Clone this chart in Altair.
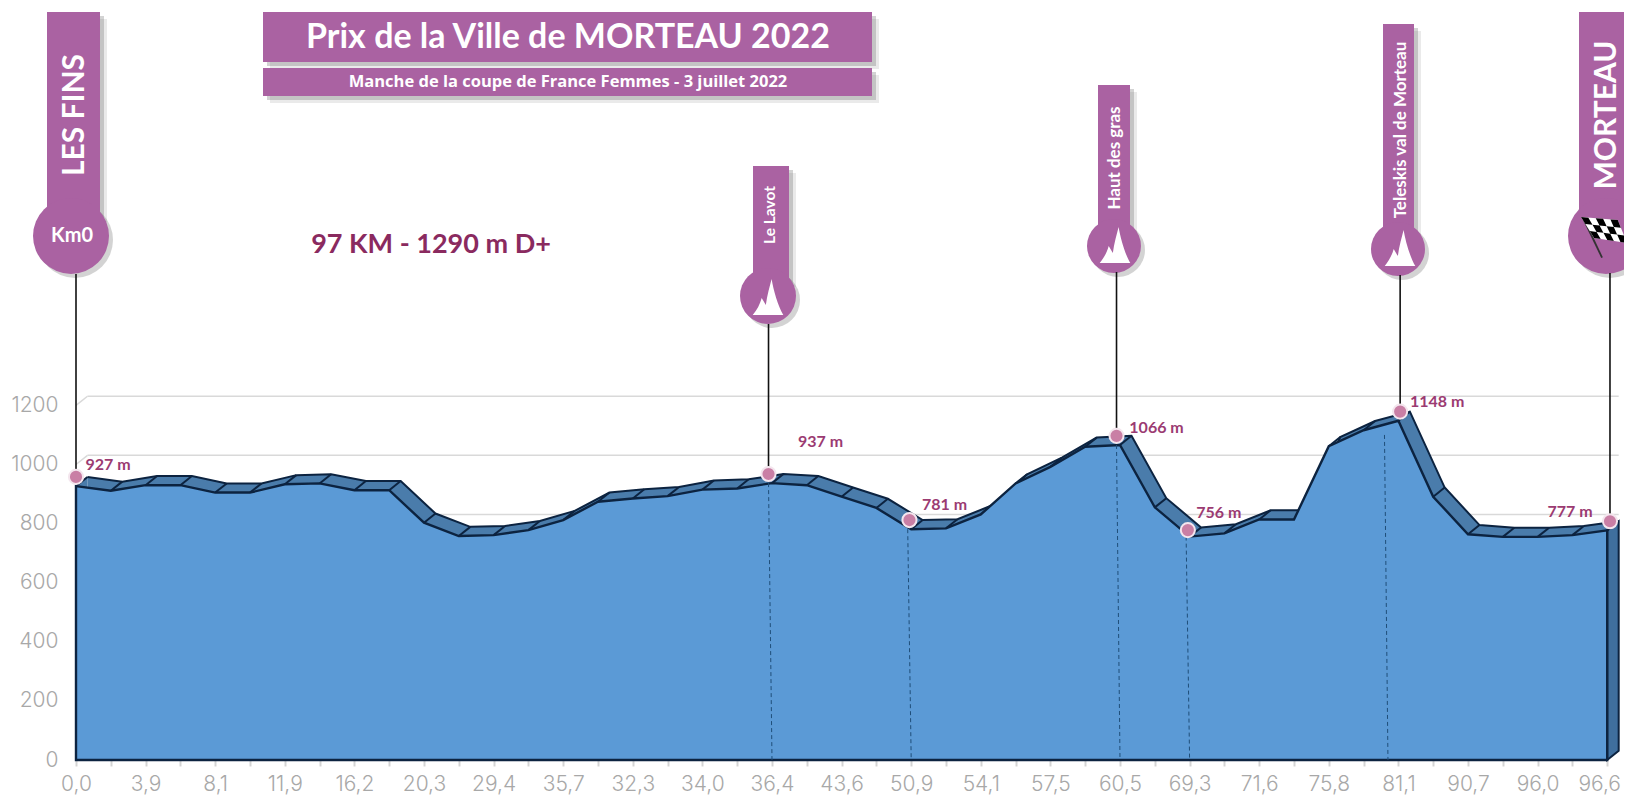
import altair as alt
import pandas as pd

# ---- data ----
x_labels = ["0,0","3,9","8,1","11,9","16,2","20,3","29,4","35,7","32,3","34,0","36,4","43,6",
            "50,9","54,1","57,5","60,5","69,3","71,6","75,8","81,1","90,7","96,0","96,6"]
y_ticks = [0, 200, 400, 600, 800, 1000, 1200]
profile = [927,911,930,930,905,905,933,936,913,913,803,758,761,778,812,874,885,893,915,919,937,
           930,891,853,781,784,831,936,992,1060,1066,855,756,767,814,814,1062,1116,1148,891,764,755,755,761,777]
spot_km = [0, 19.9, 23.95, 29.9, 31.95, 38.05, 44.08]
spot_alt = [927, 937, 781, 1066, 756, 1148, 777]
spot_text = ["927 m", "937 m", "781 m", "1066 m", "756 m", "1148 m", "777 m"]
dash_top_km = [19.9, 23.9, 29.9, 31.9, 37.6]
dash_foot_km = [20, 24, 30, 32, 37.7]
dash_top_alt = [937, 781, 1066, 756, 1100]

# ---- layout ----
W, H = 1616, 790
def ix(px): return (px - 76) / 34.8
def el(py): return (760 - py) / 0.2955
DX, DY = 0.33, 31
BLUE, RIB, EDGE = "#5b9ad6", "#4a7cab", "#0c2340"
PURPLE, MAROON, LABEL = "#aa62a2", "#8a2a5f", "#9b3b72"
GEO = "Lato"
TICKFONT = "Inter"

tick_pos = list(range(len(profile)))
label_js = "[" + ",".join("'%s'" % s for s in x_labels) + "]"
X = alt.X("x:Q", title=None, scale=alt.Scale(domain=[ix(8), ix(8 + W)], nice=False, zero=False),
          axis=alt.Axis(values=tick_pos, labelExpr="datum.value % 2 ? '' : " + label_js + "[datum.value/2]",
                        offset=-(8 + H - 760), domain=False, grid=False, tickColor="#d4d4d4", tickSize=6,
                        tickWidth=2, labelFont=TICKFONT, labelFontWeight=300, labelFontSize=21, labelColor="#a8a8a8",
                        labelPadding=7, labelOverlap=False, labelFlush=False, labelBound=False,
                        labelOffset={"condition": {"test": "datum.value == 44", "value": -8}, "value": 0}))
Y = alt.Y("y:Q", title=None, scale=alt.Scale(domain=[el(8 + H), el(8)], nice=False, zero=False),
          axis=alt.Axis(values=y_ticks, format="d", offset=-50, domain=False, grid=False, ticks=False, labelPadding=0,
                        labelFont=TICKFONT, labelFontWeight=300, labelFontSize=21, labelColor="#a8a8a8",
                        labelOverlap=False, labelFlush=False, labelBound=False))

front = pd.DataFrame({"x": tick_pos, "y": profile, "y0": 0})
back = pd.DataFrame({"x": [i + DX for i in tick_pos], "y": [v + DY for v in profile], "y0": 100})
cross = pd.DataFrame({"x": tick_pos, "y": profile, "x2": [i + DX for i in tick_pos], "y2": [v + DY for v in profile]})
grid = pd.DataFrame({"x": DX, "x2": len(profile) - 1 + DX, "y": [v + DY for v in y_ticks]})
gridl = pd.DataFrame({"x": 0, "x2": DX, "y": y_ticks, "y2": [v + DY for v in y_ticks]})
last = len(profile) - 1
wall = pd.DataFrame({"x": [last, last + DX], "y": [profile[-1], profile[-1] + DY], "y0": [0, DY]})
start = pd.DataFrame({"x": [0, DX], "y": [profile[0], profile[0] + DY], "y0": [profile[0], profile[0] - 6]})

layers = []
layers.append(alt.Chart(grid).mark_rule(color="#d9d9d9", strokeWidth=1.5).encode(x=X, x2="x2:Q", y=Y))
layers.append(alt.Chart(gridl).mark_rule(color="#d9d9d9", strokeWidth=1.5).encode(x=X, x2="x2:Q", y=Y, y2="y2:Q"))
layers.append(alt.Chart(back).mark_area(color=RIB, opacity=1).encode(x=X, y=Y, y2="y0:Q"))
layers.append(alt.Chart(start).mark_area(color=RIB, opacity=1).encode(x=X, y=Y, y2="y0:Q"))
layers.append(alt.Chart(wall).mark_area(color="#3f6f9e", opacity=1, stroke=EDGE, strokeWidth=2).encode(x=X, y=Y, y2="y0:Q"))
layers.append(alt.Chart(back).mark_line(color=EDGE, strokeWidth=2).encode(x=X, y=Y))
layers.append(alt.Chart(cross).mark_rule(color=EDGE, strokeWidth=2).encode(x=X, x2="x2:Q", y=Y, y2="y2:Q"))
layers.append(alt.Chart(front).mark_area(color=BLUE, opacity=1, stroke=EDGE, strokeWidth=2.4).encode(x=X, y=Y, y2="y0:Q"))
dash = pd.DataFrame({"x": dash_top_km, "x2": dash_foot_km, "y": dash_top_alt, "y2": 0})
layers.append(alt.Chart(dash).mark_rule(color="#1f4e79", strokeWidth=1, strokeDash=[4, 3]).encode(x=X, x2="x2:Q", y=Y, y2="y2:Q"))

def bands(rows):
    return pd.DataFrame([{"x": ix(a), "x2": ix(b), "y": el(c), "y2": el(d)} for a, b, c, d in rows])
banner_rows = [(47, 100, 12, 215), (263, 872, 12, 62), (263, 872, 68, 96), (753, 789, 166, 280),
               (1098, 1130, 85, 230), (1383, 1414, 24, 233), (1579, 1640, 12, 215)]
for off, col, op in [(7, "#8c8c8c", 0.18), (4, "#6e6e6e", 0.3)]:
    layers.append(alt.Chart(bands([(a + off, b + off, c + off, d + off) for a, b, c, d in banner_rows]))
                  .mark_rect(color=col, opacity=op).encode(x=X, x2="x2:Q", y=Y, y2="y2:Q"))
pins = pd.DataFrame({"x": [ix(71), ix(768), ix(1114), ix(1398), ix(1606)],
                     "y": [el(236), el(296), el(246), el(249), el(236)],
                     "s": [38, 28, 27, 27, 38]})
pins["size"] = 4 * pins["s"] ** 2
pins_sh = pins.copy()
pins_sh["x"] = pins["x"] + 4 / 34.8
pins_sh["y"] = pins["y"] - 4 / 0.2955
layers.append(alt.Chart(pins_sh).mark_circle(color="#6e6e6e", opacity=0.3).encode(x=X, y=Y, size=alt.Size("size:Q", scale=None)))
layers.append(alt.Chart(bands(banner_rows)).mark_rect(color=PURPLE, opacity=1).encode(x=X, x2="x2:Q", y=Y, y2="y2:Q"))
layers.append(alt.Chart(pins).mark_circle(color=PURPLE, opacity=1).encode(x=X, y=Y, size=alt.Size("size:Q", scale=None)))

lift = [31, 31, 31, 31, 22, 31, 31]
stems = pd.DataFrame({"x": [spot_km[i] for i in [0, 1, 3, 5, 6]], "y": [el(274), el(324), el(272), el(275), el(273)],
                      "y2": [spot_alt[i] + lift[i] for i in [0, 1, 3, 5, 6]]})
layers.append(alt.Chart(stems).mark_rule(color="#111111", strokeWidth=1.6).encode(x=X, y=Y, y2="y2:Q"))
spots = pd.DataFrame({"x": spot_km, "y": [v + l for v, l in zip(spot_alt, lift)]})
layers.append(alt.Chart(spots).mark_circle(color="#c97fa5", opacity=1, size=200, stroke="#f4e6ee", strokeWidth=2).encode(x=X, y=Y))
offs = [(32, -12), (52, -32), (35, -15), (40, -8), (31, -17), (37, -10), (-40, -9)]
for k, v, l, t, (ox, oy) in zip(spot_km, spot_alt, lift, spot_text, offs):
    d = pd.DataFrame({"x": [k], "y": [v + l], "t": [t]})
    layers.append(alt.Chart(d).mark_text(font=GEO, fontWeight="bold", fontSize=16, color=LABEL, dx=ox, dy=oy)
                  .encode(x=X, y=Y, text="t:N"))

MOUNT = "M-.85,1 C-.6,.7 -.45,.4 -.35,.05 L-.12,.45 C-.05,-.1 .1,-.6 .2,-1 C.3,-.4 .55,.5 .85,1 Z"
icons = pd.DataFrame({"x": [ix(768), ix(1115), ix(1400)], "y": [el(297), el(245), el(248)]})
layers.append(alt.Chart(icons).mark_point(shape=MOUNT, filled=True, color="white", opacity=1, size=1296, strokeWidth=0).encode(x=X, y=Y))

def quad(u, v):
    tl, tr, br, bl = (-1, -.78), (.6, -.65), (1, .35), (-.43, .13)
    top = (tl[0] + (tr[0] - tl[0]) * u, tl[1] + (tr[1] - tl[1]) * u)
    bot = (bl[0] + (br[0] - bl[0]) * u, bl[1] + (br[1] - bl[1]) * u)
    return "%.3f,%.3f" % (top[0] + (bot[0] - top[0]) * v, top[1] + (bot[1] - top[1]) * v)
def cell(i, j, n=5, m=3):
    return "M%s L%s L%s L%s Z" % (quad(i / n, j / m), quad((i + 1) / n, j / m), quad((i + 1) / n, (j + 1) / m), quad(i / n, (j + 1) / m))
flag_white = cell(0, 0, 1, 1)
flag_black = " ".join(cell(i, j) for i in range(5) for j in range(3) if (i + j) % 2 == 0)
pole = "M-.9,-.62 L-.12,1 L-.05,.97 L-.82,-.66 Z"
fl = pd.DataFrame({"x": [ix(1604)], "y": [el(235)]})
for shp, col in [(pole, "#333333"), (flag_white, "white"), (flag_black, "black")]:
    layers.append(alt.Chart(fl).mark_point(shape=shp, filled=True, color=col, opacity=1, size=2116, strokeWidth=0).encode(x=X, y=Y))

def txt(s, px, py, size, color="white", angle=0, weight="bold", font=GEO):
    d = pd.DataFrame({"x": [ix(px)], "y": [el(py)], "t": [s]})
    return alt.Chart(d).mark_text(font=font, fontWeight=weight, fontSize=size, color=color, angle=angle,
                                  align="center", baseline="middle").encode(x=X, y=Y, text="t:N")
layers += [
    txt("Prix de la Ville de MORTEAU 2022", 568, 38, 34),
    txt("Manche de la coupe de France Femmes - 3 juillet 2022", 568, 82, 16.5, font="Open Sans"),
    txt("97 KM - 1290 m D+", 431, 245, 27, MAROON),
    txt("LES FINS", 75, 115, 30, angle=270),
    txt("Km0", 72, 236, 20),
    txt("Le Lavot", 770, 215, 15.5, angle=270),
    txt("Haut des gras", 1115, 158, 17, angle=270),
    txt("Teleskis val de Morteau", 1401, 130, 17, angle=270),
    txt("MORTEAU", 1607, 115, 30, angle=270),
]

chart = alt.layer(*layers).properties(
    width=W, height=H, padding=0, autosize=alt.AutoSizeParams(type="none"), background="white"
).configure_view(stroke=None)
chart.save("out.html", embed_options={"renderer": "svg", "actions": False})
